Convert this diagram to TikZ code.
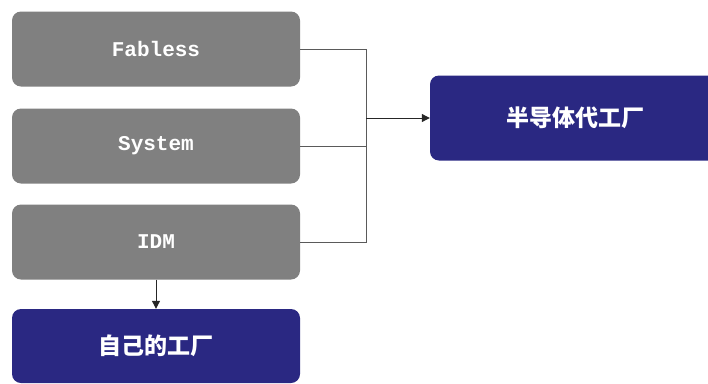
\documentclass[tikz,border=0pt]{standalone}
\usepackage{fontspec}
\setmonofont{Liberation Mono}
\newfontfamily\cjk{Noto Sans CJK SC}
\usetikzlibrary{arrows.meta}
\definecolor{boxgray}{RGB}{128,128,128}
\definecolor{navy}{RGB}{42,40,130}
\definecolor{linegray}{RGB}{90,90,90}
\tikzset{
  graybox/.style={fill=boxgray, rounded corners=9pt, minimum width=288pt, minimum height=75pt, inner sep=0pt, text=white, font=\ttfamily\bfseries\fontsize{21}{24}\selectfont},
  navybox/.style={fill=navy, rounded corners=9pt, inner sep=0pt, text=white, font=\cjk\bfseries\fontsize{23}{26}\selectfont},
  conn/.style={draw=linegray, line width=0.9pt},
  arr/.style={draw=black!85, line width=1pt, -{Triangle[length=8pt,width=8pt]}}
}
\begin{document}
\begin{tikzpicture}[x=1pt,y=-1pt]
\useasboundingbox (0,0) rectangle (708,383);
\node[graybox] (fab) at (156,49) {Fabless};
\node[graybox] (sys) at (156,146) {System};
\node[graybox] (idm) at (156,242) {IDM};
\node[navybox, minimum width=288pt, minimum height=74pt] (own) at (156,346) {自己的工厂};
\node[navybox, minimum width=290pt, minimum height=85pt] (fdy) at (575,118) {半导体代工厂};
\coordinate (j1) at (366,49);
\coordinate (j3) at (366,242);
\coordinate (jm) at (366,118);
\draw[conn] (fab.east) -- (j1) -- (j3) -- (idm.east);
\draw[conn] (sys.east) -- (sys.east -| j1);
\draw[arr] (jm) -- (fdy.west);
\draw[arr] (idm.south) -- (own.north);
\end{tikzpicture}
\end{document}
